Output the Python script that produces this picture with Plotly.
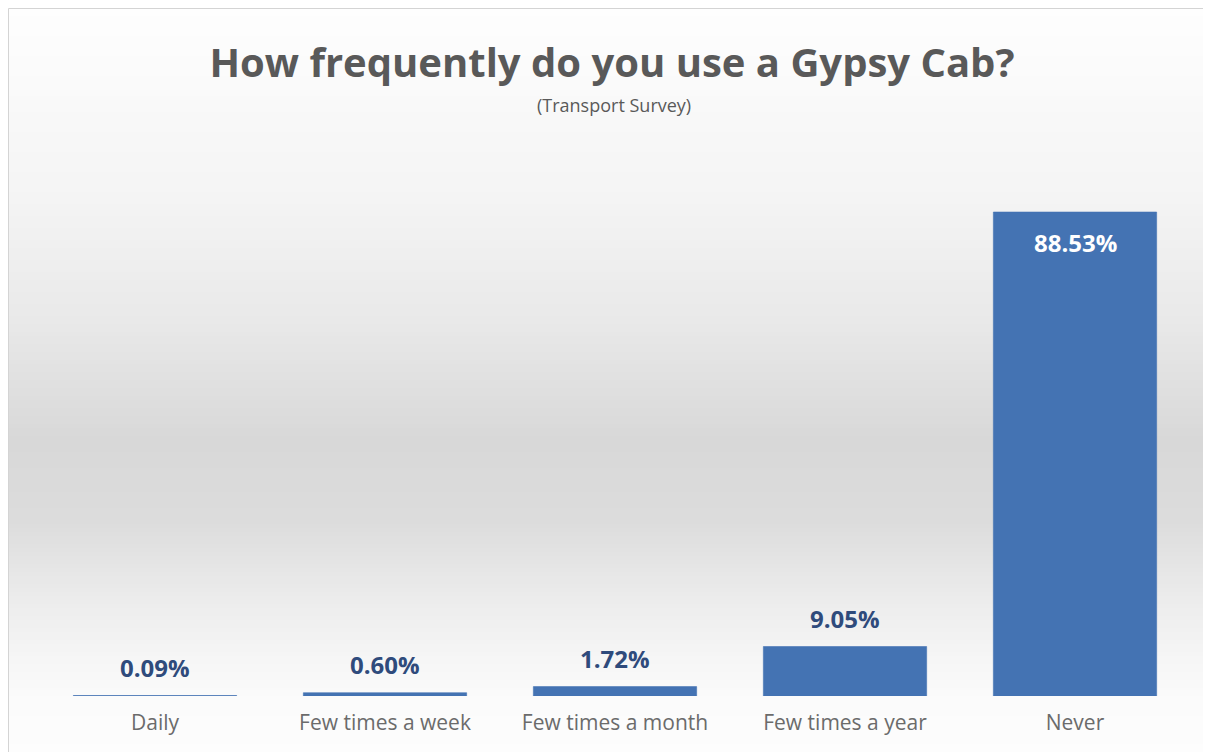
import numpy as np
import plotly.graph_objects as go

# ---- data ----
categories = ["Daily", "Few times a week", "Few times a month", "Few times a year", "Never"]
percentages = [0.09, 0.60, 1.72, 9.05, 88.53]
value_labels = ["0.09%", "0.60%", "1.72%", "9.05%", "88.53%"]
title_text = "How frequently do you use a Gypsy Cab?"
subtitle_text = "(Transport Survey)"

# ---- layout geometry (pixels, figure coordinates; page adds 8px body margin) ----
OFF = 8
W, H = 1211, 752
ML, MR, MT, MB = 40 - OFF, W - (1190 - OFF), 204 - OFF, H - (696 - OFF)
PW, PH = W - ML - MR, H - MT - MB

def py(y):  # reference-screen pixel y -> paper
    return (H - MB - (y - OFF)) / PH

def px(x):  # reference-screen pixel x -> paper
    return ((x - OFF) - ML) / PW

# background vertical gradient (style)
stops_y = [8, 200, 320, 440, 520, 600, 660, 700, 760]
stops_v = [254, 244, 233, 216, 220, 236, 246, 251, 253]
shapes = []
band = 4
for y0 in range(8, H + OFF, band):
    y1 = y0 + band
    v = int(round(np.interp((y0 + y1) / 2, stops_y, stops_v)))
    shapes.append(dict(type="rect", xref="paper", yref="paper", layer="below",
                       x0=px(8), x1=px(W + OFF + 2),
                       y0=py(y1), y1=py(y0),
                       fillcolor=f"rgb({v},{v},{v})", line=dict(width=0)))
shapes.append(dict(type="rect", xref="paper", yref="paper", layer="below",
                   x0=px(8.5), x1=px(W + OFF + 4),
                   y0=py(H + OFF + 4), y1=py(8.5),
                   fillcolor="rgba(0,0,0,0)", line=dict(color="#d4d4d4", width=1)))

fig = go.Figure()
fig.add_trace(go.Bar(
    x=categories, y=percentages,
    marker=dict(color="#4473b3", line=dict(color="#4473b3", width=0.6)),
    width=0.71, hoverinfo="x+y",
))

annotations = []
for c, v, lab in zip(categories, percentages, value_labels):
    if v > 50:
        annotations.append(dict(x=c, y=v, xref="x", yref="y", text=lab, showarrow=False,
                                yanchor="top", yshift=-12,
                                font=dict(family="Open Sans", size=24, color="#ffffff", weight="bold")))
    else:
        annotations.append(dict(x=c, y=v, xref="x", yref="y", text=lab, showarrow=False,
                                yanchor="bottom", yshift=10,
                                font=dict(family="Open Sans", size=24, color="#2f4b7c", weight="bold")))

annotations.append(dict(text=subtitle_text, xref="paper", yref="paper",
                        x=px(614), y=py(105), showarrow=False,
                        xanchor="center", yanchor="middle",
                        font=dict(family="Open Sans", size=18, color="#595959")))

fig.update_layout(
    width=W, height=H,
    margin=dict(l=ML, r=MR, t=MT, b=MB, autoexpand=False),
    paper_bgcolor="white", plot_bgcolor="rgba(0,0,0,0)",
    title=dict(text=title_text, x=(612 - OFF) / W, xanchor="center", xref="container",
               y=1 - (63 - OFF) / H, yanchor="middle", yref="container",
               font=dict(family="Open Sans", size=40, color="#595959", weight="bold")),
    showlegend=False,
    bargap=0.29,
    shapes=shapes,
    annotations=annotations,
    xaxis=dict(showgrid=False, zeroline=False, showline=False, ticks="",
               tickfont=dict(family="Open Sans", size=21, color="#6b6b6b"),
               ticklabelstandoff=12),
    yaxis=dict(range=[0, 90], visible=False, showgrid=False, zeroline=False),
)

fig.write_html("out.html")
